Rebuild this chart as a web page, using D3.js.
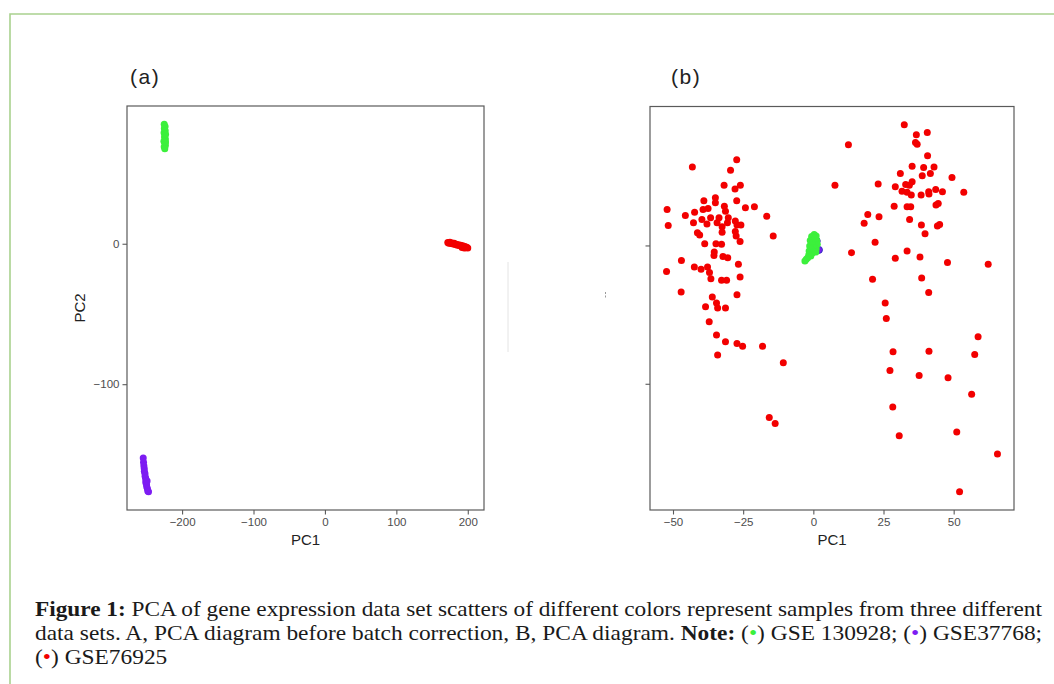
<!DOCTYPE html>
<html>
<head>
<meta charset="utf-8">
<script src="https://cdnjs.cloudflare.com/ajax/libs/d3/7.8.5/d3.min.js"></script>
<style>
  html, body { margin: 0; padding: 0; background: #fff; }
  svg { display: block; }
</style>
</head>
<body>
<svg id="fig" width="1054" height="684"></svg>
<script>
// ---- data (PC1, PC2) ----

// panel (a): before batch correction
const aGreen = [
  [-225, 85], [-223.8, 83.5], [-224.8, 82], [-223.6, 80.5], [-225.2, 79], [-223.8, 77.5],
  [-224.6, 76], [-223.4, 74.5], [-225.4, 73], [-224, 71.5], [-223.4, 70], [-225, 69],
  [-224.2, 67.6], [-223.2, 72.5], [-223.2, 78]
];
const aPurple = [
  [-254.4, -152.5], [-254, -155.5], [-253.5, -158], [-253, -160], [-252.8, -162], [-252, -163.5],
  [-251.8, -165.5], [-251, -167], [-250.5, -168.5], [-250.8, -170], [-249.8, -171.5], [-249.5, -173],
  [-248.5, -174.5], [-248, -176], [-247, -176.5], [-249, -169]
];
const aRed = [
  [172, 0.8], [173.5, 0.3], [175, 1.0], [176.5, 0.2], [178, 0.5], [179.5, -0.2], [181, 0.3],
  [182.5, -0.5], [184, -0.3], [185.5, -1.0], [187, -0.8], [188.5, -1.3], [190, -1.0], [191.5, -1.8],
  [193, -1.5], [194.5, -2.3], [196, -2.0], [197, -2.8], [198.5, -2.5], [200, -3.1], [195, -3.0], [192, -2.6]
];

// panel (b): after correction
const bPurple = [[2.0, -0.8], [0.6, 0.1], [-0.8, -0.9], [1.2, 0.8]];
const bRed = [
  [-27.3, 15.5], [-43.1, 14.2], [-29.5, 13.6], [-31.8, 10.9], [-26.0, 10.9], [-27.9, 10.2],
  [-39.0, 8.1], [-34.9, 8.6], [-34.9, 7.7], [-27.3, 8.1], [-52.1, 6.5], [-39.3, 6.5],
  [-37.5, 6.7], [-31.7, 7.1], [-31.3, 6.2], [-24.2, 6.8], [-21.0, 7.0], [-16.6, 5.3],
  [-45.6, 5.4], [-42.3, 6.0], [-39.7, 4.7], [-36.6, 5.0], [-33.6, 5.0], [-30.3, 5.0],
  [-51.7, 3.6], [-42.7, 4.1], [-37.9, 3.9], [-34.3, 4.1], [-30.6, 4.1], [-27.8, 4.4],
  [-27.2, 3.7], [-25.8, 3.7], [-32.5, 3.4], [-41.3, 2.3], [-40.5, 1.9], [-32.5, 2.4],
  [-27.8, 2.5], [-27.5, 1.7], [-14.3, 1.7], [-38.7, 0.3], [-34.7, 0.3], [-32.7, 0.2],
  [-26.1, 0.7], [-35.3, -1.2], [-35.4, -1.8], [-32.2, -2.0], [-30.5, -2.2], [-47.0, -2.7],
  [-26.7, -3.4], [-52.3, -4.7], [-42.4, -3.9], [-40.0, -4.3], [-37.7, -3.9], [-37.0, -4.9],
  [-36.5, -6.0], [-32.7, -6.3], [-30.9, -6.3], [-26.1, -5.7], [-47.1, -8.4], [-27.2, -8.9],
  [-36.0, -9.3], [-34.5, -10.4], [-34.1, -11.3], [-38.4, -11.1], [-31.3, -11.3], [-37.1, -13.8],
  [-34.5, -16.2], [-31.3, -17.4], [-27.2, -17.7], [-25.2, -18.2], [-18.1, -18.2], [-34.1, -19.8],
  [-10.7, -21.2], [-15.7, -31.1], [-13.6, -32.2],
  [32.4, 21.8], [36.7, 20.0], [40.6, 20.4], [36.4, 18.6], [37.0, 18.3], [12.5, 18.2],
  [40.7, 16.2], [35.2, 14.3], [39.3, 14.1], [43.0, 14.2], [31.0, 13.0], [38.8, 12.6],
  [41.7, 13.0], [49.4, 12.3], [7.7, 10.9], [23.1, 11.1], [29.2, 10.6], [32.9, 11.0],
  [35.2, 11.5], [34.2, 10.9], [31.6, 9.8], [33.4, 9.6], [34.9, 9.1], [38.4, 9.1],
  [41.1, 9.7], [41.2, 9.3], [43.6, 10.1], [46.0, 9.7], [53.6, 9.6], [28.8, 7.1],
  [33.4, 7.0], [34.7, 7.0], [43.7, 7.3], [44.5, 7.6], [19.4, 5.6], [23.4, 5.2],
  [18.1, 4.0], [34.3, 4.7], [38.5, 3.7], [44.2, 3.5], [45.0, 3.8], [39.8, 2.1],
  [22.0, 0.6], [13.6, -1.3], [33.4, -1.0], [29.2, -2.3], [38.0, -2.1], [47.8, -3.1],
  [62.3, -3.4], [21.1, -6.1], [38.6, -5.9], [41.1, -8.5], [25.6, -10.4], [26.0, -13.2],
  [58.7, -16.5], [28.4, -19.2], [41.2, -19.1], [57.5, -19.7], [27.3, -22.6], [37.7, -23.5],
  [48.0, -23.9], [56.4, -26.9], [28.3, -29.2], [30.6, -34.4], [51.1, -33.7], [65.6, -37.7],
  [52.1, -44.5]
];
const bGreen = [
  [0.3, 2.0], [1.0, 1.7], [-0.6, 1.6], [0.0, 1.1], [1.2, 0.9], [-1.1, 0.9], [0.5, 0.5],
  [-0.4, 0.3], [1.4, 0.2], [-1.3, -0.1], [0.2, -0.3], [1.0, -0.6], [-0.9, -0.7], [0.4, -1.1],
  [-1.5, -1.0], [-0.4, -1.4], [-1.6, -1.7], [-0.9, -1.9], [-2.0, -2.2], [-2.5, -2.5],
  [-3.0, -2.8], [0.9, -1.2], [-0.2, 0.8], [0.7, 1.3]
];

const aXTicks = [-200, -100, 0, 100, 200];
const aYTicks = [-100, 0];
const bXTicks = [-50, -25, 0, 25, 50];
const bYTicks = [-25, 0];

const GREEN = '#3cf03c';
const PURPLE = '#7d1cf2';
const RED = '#f20000';

const svg = d3.select('#fig');
const axisFont = '"Liberation Sans", Arial, sans-serif';

// page frame (light green rule on top and left)
svg.append('path')
  .attr('d', 'M10,684V14H1054')
  .attr('fill', 'none')
  .attr('stroke', '#a9d18e')
  .attr('stroke-width', 1.6);

// ggplot-style 5% expansion of the data range
function expanded(vals) {
  const [lo, hi] = d3.extent(vals);
  const pad = (hi - lo) * 0.05;
  return [lo - pad, hi + pad];
}

function drawPanel(cfg) {
  const all = cfg.series.flatMap(s => s.pts);
  const x = d3.scaleLinear().domain(expanded(all.map(d => d[0]))).range([cfg.left, cfg.right]);
  const y = d3.scaleLinear().domain(expanded(all.map(d => d[1]))).range([cfg.bottom, cfg.top]);

  const g = svg.append('g');

  // points
  cfg.series.forEach(s => {
    g.append('g').selectAll('circle')
      .data(s.pts)
      .enter()
      .append('circle')
      .attr('cx', d => x(d[0]))
      .attr('cy', d => y(d[1]))
      .attr('r', 3.5)
      .attr('fill', s.color)
      .attr('stroke', s.stroke || 'none')
      .attr('stroke-width', s.stroke ? 1 : 0);
  });

  // panel border
  g.append('rect')
    .attr('x', cfg.left)
    .attr('y', cfg.top)
    .attr('width', cfg.right - cfg.left)
    .attr('height', cfg.bottom - cfg.top)
    .attr('fill', 'none')
    .attr('stroke', '#5a5a5a')
    .attr('stroke-width', 1.2);

  // x axis
  const xa = g.append('g')
    .attr('transform', `translate(0,${cfg.bottom})`)
    .call(d3.axisBottom(x).tickValues(cfg.xTicks).tickSize(4.5).tickPadding(3));
  // y axis
  const ya = g.append('g')
    .attr('transform', `translate(${cfg.left},0)`)
    .call(d3.axisLeft(y).tickValues(cfg.yTicks).tickSize(4.5).tickPadding(3));

  [xa, ya].forEach(ax => {
    ax.select('.domain').remove();
    ax.selectAll('line').attr('stroke', '#5a5a5a').attr('stroke-width', 1.1);
    ax.selectAll('text')
      .attr('fill', '#4d4d4d')
      .attr('font-size', '11.5px')
      .attr('font-family', axisFont);
  });
  if (!cfg.yLabels) ya.selectAll('text').remove();

  // axis titles
  g.append('text')
    .attr('x', (cfg.left + cfg.right) / 2)
    .attr('y', 545)
    .attr('text-anchor', 'middle')
    .attr('font-size', '15px')
    .attr('font-family', axisFont)
    .attr('fill', '#222')
    .text('PC1');
  if (cfg.yLabels) {
    g.append('text')
      .attr('transform', `translate(85,${(cfg.top + cfg.bottom) / 2}) rotate(-90)`)
      .attr('text-anchor', 'middle')
      .attr('font-size', '15px')
      .attr('font-family', axisFont)
      .attr('fill', '#222')
      .text('PC2');
  }

  // panel tag
  g.append('text')
    .attr('x', cfg.tagX)
    .attr('y', 84)
    .attr('font-size', '21px')
    .attr('letter-spacing', '1.5px')
    .attr('font-family', axisFont)
    .attr('fill', '#222')
    .text(cfg.tag);
}

drawPanel({
  left: 127, right: 484, top: 106, bottom: 510,
  series: [
    { pts: aGreen, color: GREEN },
    { pts: aPurple, color: PURPLE },
    { pts: aRed, color: RED }
  ],
  xTicks: aXTicks, yTicks: aYTicks, yLabels: true,
  tag: '(a)', tagX: 130
});

drawPanel({
  left: 650, right: 1014, top: 106.5, bottom: 510,
  series: [
    { pts: bPurple, color: PURPLE, stroke: '#3030c0' },
    { pts: bRed, color: RED },
    { pts: bGreen, color: GREEN }
  ],
  xTicks: bXTicks, yTicks: bYTicks, yLabels: false,
  tag: '(b)', tagX: 671
});

// small leftovers of the cropped source figure
svg.append('line')
  .attr('x1', 508).attr('x2', 508).attr('y1', 262).attr('y2', 352)
  .attr('stroke', '#e4e4e4').attr('stroke-width', 1);
svg.append('line')
  .attr('x1', 605.5).attr('x2', 605.5).attr('y1', 292).attr('y2', 299)
  .attr('stroke', '#9a9a9a').attr('stroke-width', 1).attr('stroke-dasharray', '2,1.5');

// ---- caption ----
const capFont = '"Liberation Serif", "Times New Roman", serif';
const capLines = [
  { y: 616, width: 1008, parts: [
    { t: 'Figure 1:', b: true },
    { t: ' PCA of gene expression data set scatters of different colors represent samples from three different' }
  ] },
  { y: 640, width: 1008, parts: [
    { t: 'data sets. A, PCA diagram before batch correction, B, PCA diagram. ' },
    { t: 'Note:', b: true },
    { t: ' (' }, { t: '\u2022', c: GREEN }, { t: ') GSE 130928; (' },
    { t: '\u2022', c: PURPLE }, { t: ') GSE37768;' }
  ] },
  { y: 664, width: null, parts: [
    { t: '(' }, { t: '\u2022', c: RED }, { t: ') GSE76925' }
  ] }
];

let lastScale = 1;
capLines.forEach(line => {
  const txt = svg.append('text')
    .attr('x', 0)
    .attr('y', 0)
    .attr('font-family', capFont)
    .attr('font-size', '21px')
    .attr('fill', '#1a1a1a')
    .attr('xml:space', 'preserve');
  line.parts.forEach(p => {
    txt.append('tspan')
      .attr('font-weight', p.b ? 'bold' : null)
      .attr('fill', p.c || null)
      .text(p.t);
  });
  const natural = txt.node().getComputedTextLength();
  const k = line.width ? line.width / natural : lastScale;
  lastScale = k;
  txt.attr('transform', `translate(35,${line.y}) scale(${k},1)`);
});
</script>
</body>
</html>
